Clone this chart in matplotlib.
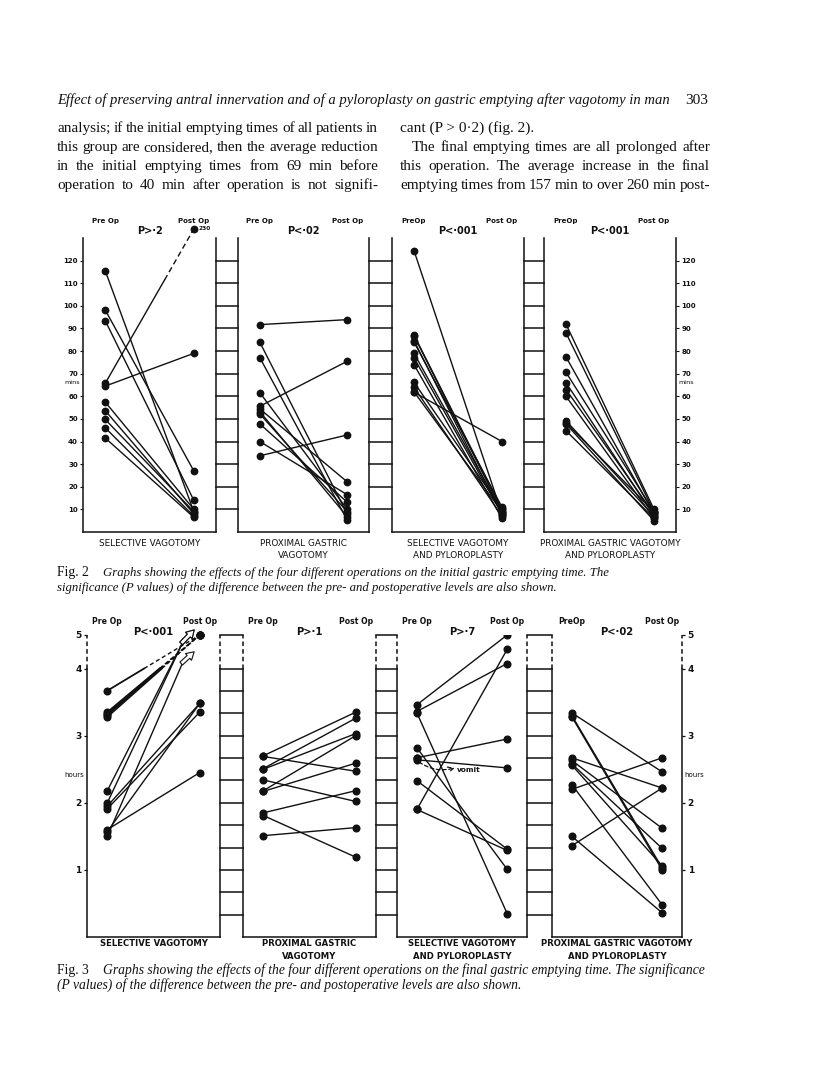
import numpy as np
import matplotlib
matplotlib.use("Agg")
import matplotlib.pyplot as plt
import matplotlib.transforms as mtrans

# ---------------- text ----------------
header = ("Effect of preserving antral innervation and of a pyloroplasty "
          "on gastric emptying after vagotomy in man")
page_no = "303"
left_col = ["analysis; if the initial emptying times of all patients in",
            "this group are considered, then the average reduction",
            "in the initial emptying times from 69 min before",
            "operation to 40 min after operation is not signifi-"]
right_col = ["cant (P > 0·2) (fig. 2).",
             "The final emptying times are all prolonged after",
             "this operation. The average increase in the final",
             "emptying times from 157 min to over 260 min post-"]
fig2_caption = ["Graphs showing the effects of the four different operations on the initial gastric emptying time. The",
                "significance (P values) of the difference between the pre- and postoperative levels are also shown."]
fig3_caption = ["Graphs showing the effects of the four different operations on the final gastric emptying time. The significance",
                "(P values) of the difference between the pre- and postoperative levels are also shown."]

op_names = [["SELECTIVE VAGOTOMY"],
            ["PROXIMAL GASTRIC", "VAGOTOMY"],
            ["SELECTIVE VAGOTOMY", "AND PYLOROPLASTY"],
            ["PROXIMAL GASTRIC VAGOTOMY", "AND PYLOROPLASTY"]]
fig2_pvals = ["P>·2", "P<·02", "P<·001", "P<·001"]
fig3_pvals = ["P<·001", "P>·1", "P>·7", "P<·02"]
fig2_pre_lab = ["Pre Op", "Pre Op", "PreOp", "PreOp"]
fig3_pre_lab = ["Pre Op", "Pre Op", "Pre Op", "PreOp"]
post_lab = "Post Op"

min_ticks = [10, 20, 30, 40, 50, 60, 70, 80, 90, 100, 110, 120]
hour_ticks = [1, 2, 3, 4, 5]
rung_minutes = [20, 40, 60, 80, 100, 120, 140, 160, 180, 200, 220, 240]

# ---------------- Fig 2 data: initial emptying time (min) ----------------
sv2_pre = [115.6, 98.2, 93.5, 65.7, 64.5, 57.5, 53.7, 49.8, 46.1, 41.6]
sv2_post = [9.0, 27.0, 14.0, 230.0, 79.0, 10.0, 8.0, 9.0, 7.0, 6.5]

pgv2_pre = [91.7, 83.9, 77.1, 61.6, 55.6, 54.4, 53.2, 52.2, 47.8, 40.0, 33.7]
pgv2_post = [93.9, 8.0, 5.3, 10.1, 75.5, 22.2, 6.8, 9.0, 13.2, 16.5, 42.9]

svpp2_pre = [124.4, 87.1, 86.8, 84.6, 84.0, 79.0, 77.0, 74.0, 66.2, 64.0, 62.0, 61.8]
svpp2_post = [8.0, 10.0, 9.0, 7.5, 11.0, 9.0, 8.0, 6.0, 10.0, 7.0, 9.0, 40.0]

pgvpp2_pre = [91.9, 88.0, 77.4, 70.6, 66.0, 63.0, 60.0, 49.2, 48.3, 47.8, 44.8]
pgvpp2_post = [10.0, 9.0, 8.0, 9.0, 7.0, 8.0, 6.0, 7.0, 9.0, 5.0, 6.0]

# ---------------- Fig 3 data: final emptying time (hours) ----------------
# mark: 'dot' plain, 'brk' dashed above the broken scale, 'arrow' off scale (open arrow)
sv3_pre = [3.67, 3.35, 3.33, 3.31, 3.28, 2.18, 2.00, 1.95, 1.91, 1.60, 1.57, 1.50]
sv3_post = [5.0, 5.0, 5.0, 5.0, 5.0, 4.8, 4.8, 3.48, 3.35, 2.45, 3.48, 4.2]
sv3_mark = ['brk', 'brk', 'brk', 'brk', 'brk', 'arrow', 'arrow',
            'dot', 'dot', 'dot', 'dot', 'arrow']

pgv3_pre = [2.70, 2.69, 2.51, 2.50, 2.34, 2.18, 2.17, 1.85, 1.81, 1.51]
pgv3_post = [3.35, 2.47, 3.26, 3.03, 2.02, 3.00, 2.59, 2.18, 1.19, 1.63]

svpp3_pre = [3.46, 3.36, 3.34, 2.82, 2.67, 2.66, 2.64, 2.33, 1.90, 1.90]
svpp3_post = [5.0, 4.15, 0.35, 1.01, 2.95, np.nan, 2.52, 1.31, 4.57, 1.29]

pgvpp3_pre = [3.34, 3.30, 3.28, 2.67, 2.63, 2.58, 2.56, 2.27, 2.20, 1.50, 1.36]
pgvpp3_post = [2.46, 1.03, 1.00, 2.22, 1.62, 1.32, 1.06, 0.48, 2.67, 0.36, 2.22]

# ---------------- figure ----------------
W, H = 816, 1075
fig = plt.figure(figsize=(W / 100, H / 100), dpi=100)
fig.patch.set_facecolor("white")
T = mtrans.Affine2D().scale(1 / W, -1 / H).translate(0, 1) + fig.transFigure
renderer = fig.canvas.get_renderer()
SERIF = "Liberation Serif"
SANS = "DejaVu Sans"
INK = "#111111"


def box(x0, y0, x1, y1):
    return [x0 / W, 1 - y1 / H, (x1 - x0) / W, (y1 - y0) / H]


def text_w(s, size, **kw):
    t = fig.text(0, 0, s, transform=T, fontsize=size, **kw)
    w = t.get_window_extent(renderer).width
    t.remove()
    return w


def fit_text(x, y, s, target_w, size0=10, **kw):
    t = fig.text(x, y, s, transform=T, fontsize=size0, color=INK, **kw)
    w = t.get_window_extent(renderer).width
    t.set_fontsize(size0 * target_w / w)
    return t


def min_gap(line, width, size, **kw):
    words = line.split(" ")
    tot = sum(text_w(w, size, **kw) for w in words)
    return (width - tot) / max(len(words) - 1, 1)


def justify(line, x0, x1, y, size, **kw):
    words = line.split(" ")
    arts = [fig.text(0, y, w, transform=T, fontsize=size, va="baseline",
                     color=INK, **kw) for w in words]
    widths = [a.get_window_extent(renderer).width for a in arts]
    gap = (x1 - x0 - sum(widths)) / max(len(words) - 1, 1)
    x = x0
    for a, w in zip(arts, widths):
        a.set_x(x)
        x += w + gap


# header and body text
fit_text(57, 104, header, 665 - 57, family=SERIF, style="italic", va="baseline")
fig.text(708, 104, page_no, transform=T, ha="right", va="baseline",
         family=SERIF, fontsize=11, color=INK)

just_lines = [(l, 321) for l in left_col] + [(right_col[1], 298), (right_col[2], 310), (right_col[3], 310)]
body_size = 11.5
while body_size > 8 and min(min_gap(l, w, body_size, family=SERIF) for l, w in just_lines) < 2.8:
    body_size -= 0.1

for i, line in enumerate(left_col):
    justify(line, 57, 378, 132 + 19 * i, body_size, family=SERIF)
fig.text(400, 132, right_col[0], transform=T, fontsize=body_size,
         family=SERIF, va="baseline", color=INK)
for i, line in enumerate(right_col[1:]):
    justify(line, 412 if i == 0 else 400, 710, 151 + 19 * i, body_size, family=SERIF)


# captions
def caption(num, lines, y0, x_end):
    fig.text(57, y0, "Fig. %d" % num, transform=T, family=SERIF, fontsize=9.8,
             va="baseline", color=INK)
    t = fit_text(103, y0, lines[0], x_end - 103, family=SERIF, style="italic",
                 va="baseline")
    fig.text(57, y0 + 14.5, lines[1], transform=T, family=SERIF, style="italic",
             fontsize=t.get_fontsize(), va="baseline", color=INK)


caption(2, fig2_caption, 576, 613)
caption(3, fig3_caption, 974, 708)


# ---------------- panel helpers ----------------
def fwd(v):
    v = np.asarray(v, dtype=float)
    return np.where(v <= 4, v, 4 + (v - 4) * 0.5)


def inv(u):
    u = np.asarray(u, dtype=float)
    return np.where(u <= 4, u, 4 + (u - 4) * 2.0)


def make_axes(b, hours=False):
    ax = fig.add_axes(box(*b))
    ax.set_facecolor("none")
    if hours:
        ax.set_yscale("function", functions=(fwd, inv))
        ax.set_ylim(0, 5)
        ax.set_xlim(-0.22, 1.22)
    else:
        ax.set_ylim(0, 130)
        ax.set_xlim(-0.25, 1.25)
    ax.set_xticks([])
    ax.set_yticks([])
    ax.spines["top"].set_visible(False)
    for s in ax.spines.values():
        s.set_linewidth(1.1)
        s.set_color(INK)
    if hours:
        ax.spines["left"].set_bounds(0, 4)
        ax.spines["right"].set_bounds(0, 4)
        bt = mtrans.blended_transform_factory(ax.transAxes, ax.transData)
        for xs in (0, 1):
            ax.plot([xs, xs], [4, 5], transform=bt, color=INK, lw=1.1,
                    ls=(0, (3, 2)), clip_on=False)
    return ax


def make_ladder(b, hours=False):
    ax = fig.add_axes(box(*b))
    ax.axis("off")
    if hours:
        ax.set_yscale("function", functions=(fwd, inv))
        ax.set_ylim(0, 5)
        for m in rung_minutes:
            ax.axhline(m / 60, color=INK, lw=1.1, clip_on=False)
        ax.axhline(5, color=INK, lw=1.1, clip_on=False)
    else:
        ax.set_ylim(0, 130)
        for v in min_ticks:
            ax.axhline(v, color=INK, lw=1.1, clip_on=False)
    return ax


def pairs(ax, pre, post, ms=4.6):
    for a, b in zip(pre, post):
        if np.isnan(b):
            ax.plot([0], [a], "o", ms=ms, color=INK, zorder=3)
            continue
        ax.plot([0, 1], [a, b], color=INK, lw=1.0, zorder=2)
        ax.plot([0, 1], [a, b], "o", ms=ms, color=INK, zorder=3, lw=0)


def panel_texts(ax, yl, ypv, ylab, pre_lab, pval, names, size_lab, size_pv, size_name, weight_name):
    bx = mtrans.blended_transform_factory(ax.transData, T)
    ba = mtrans.blended_transform_factory(ax.transAxes, T)
    ax.text(0, yl, pre_lab, transform=bx, ha="center", va="center",
            fontsize=size_lab, fontweight="bold", family=SANS, color=INK)
    ax.text(1, yl, post_lab, transform=bx, ha="center", va="center",
            fontsize=size_lab, fontweight="bold", family=SANS, color=INK)
    ax.text(0.5, ypv, pval, transform=ba, ha="center", va="center",
            fontsize=size_pv, fontweight="bold", family=SANS, color=INK)
    for k, nm in enumerate(names):
        ax.text(0.5, ylab + 12.5 * k, nm, transform=ba, ha="center", va="center",
                fontsize=size_name, fontweight=weight_name, family=SANS, color=INK)


# ---------------- Fig 2 ----------------
f2_boxes = [(83, 238, 216, 532), (238, 238, 369, 532),
            (392, 238, 524, 532), (544, 238, 676, 532)]
f2_data = [(sv2_pre, sv2_post), (pgv2_pre, pgv2_post),
           (svpp2_pre, svpp2_post), (pgvpp2_pre, pgvpp2_post)]
axes2 = []
for i, (b, (pre, post)) in enumerate(zip(f2_boxes, f2_data)):
    ax = make_axes(b)
    axes2.append(ax)
    top = ax.get_ylim()[1]
    on = [(a, p) for a, p in zip(pre, post) if p <= top]
    pairs(ax, [a for a, _ in on], [p for _, p in on])
    for a, p in zip(pre, post):
        if p > top:  # off-scale value: solid then dashed up to a marker above the axis
            yc = top + 4
            xm = 0.67
            ym = a + (yc - a) * xm
            ax.plot([0, xm], [a, ym], color=INK, lw=1.0, clip_on=False)
            ax.plot([xm, 1], [ym, yc], color=INK, lw=1.0, ls=(0, (4, 2.5)), clip_on=False)
            ax.plot([0], [a], "o", ms=4.6, color=INK)
            ax.plot([1], [yc], "o", ms=4.6, color=INK, clip_on=False)
            ax.text(1.05, yc, "%d" % p, fontsize=4.2, fontweight="bold",
                    va="center", ha="left", family=SANS, color=INK)
    panel_texts(ax, 220.5, 231, 543, fig2_pre_lab[i], fig2_pvals[i], op_names[i],
                5.0, 7.0, 6.4, "normal")
for k in range(3):
    make_ladder((f2_boxes[k][2], 238, f2_boxes[k + 1][0], 532))

# tick labels fig 2
ax = axes2[0]
ax.set_yticks(min_ticks)
ax.tick_params(axis="y", left=True, labelleft=True, direction="out", length=2.5,
               width=0.8, pad=1.2, labelsize=5.0, colors=INK)
for lab in ax.get_yticklabels():
    lab.set_fontweight("bold")
ax.text(-0.02, 66, "mins", transform=mtrans.blended_transform_factory(ax.transAxes, ax.transData),
        ha="right", va="center", fontsize=4.6, family=SANS, color=INK)
ax = axes2[3]
ax.set_yticks(min_ticks)
ax.yaxis.tick_right()
ax.tick_params(axis="y", right=True, labelright=True, left=False, labelleft=False,
               direction="out", length=2.5, width=0.8, pad=1.2, labelsize=5.0, colors=INK)
for lab in ax.get_yticklabels():
    lab.set_fontweight("bold")
ax.text(1.02, 66, "mins", transform=mtrans.blended_transform_factory(ax.transAxes, ax.transData),
        ha="left", va="center", fontsize=4.6, family=SANS, color=INK)

# ---------------- Fig 3 ----------------
f3_boxes = [(87, 635, 220, 937), (243, 635, 376, 937),
            (397, 635, 527, 937), (552, 635, 682, 937)]
axes3 = [make_axes(b, hours=True) for b in f3_boxes]
for k in range(3):
    make_ladder((f3_boxes[k][2], 635, f3_boxes[k + 1][0], 937), hours=True)

# panel 1 with broken-scale and off-scale patients
ax = axes3[0]
for a, p, mk in zip(sv3_pre, sv3_post, sv3_mark):
    ax.plot([0], [a], "o", ms=4.8, color=INK, zorder=3)
    if mk == "dot":
        ax.plot([0, 1], [a, p], color=INK, lw=1.0)
        ax.plot([1], [p], "o", ms=4.8, color=INK, zorder=3)
    elif mk == "brk":
        ua, up = float(fwd(a)), float(fwd(p))
        xb = (4 - ua) / (up - ua)
        ax.plot([0, xb], [a, 4], color=INK, lw=1.3)
        ax.plot([xb, 1], [4, p], color=INK, lw=1.0, ls=(0, (3, 2)), clip_on=False)
        ax.plot([1], [p], "o", ms=4.8, color=INK, zorder=3, clip_on=False)
    else:
        xe = 0.82
        ax.plot([0, xe], [a, p], color=INK, lw=1.0, clip_on=False)
        ax.annotate("", xy=(xe + 0.12, p + (0.35 if p > 4.5 else 0.3)), xytext=(xe - 0.02, p - 0.05),
                    arrowprops=dict(arrowstyle="simple,head_length=0.55,head_width=0.65,tail_width=0.28",
                                    fc="white", ec=INK, lw=0.8, shrinkA=0, shrinkB=0),
                    annotation_clip=False, zorder=4)

pairs(axes3[1], pgv3_pre, pgv3_post, ms=4.8)
pairs(axes3[2], svpp3_pre, svpp3_post, ms=4.8)
pairs(axes3[3], pgvpp3_pre, pgvpp3_post, ms=4.8)

# vomit annotation (patient with no post-op value)
ax = axes3[2]
iv = int(np.where(np.isnan(svpp3_post))[0][0])
ax.annotate("", xy=(0.42, svpp3_pre[iv] - 0.14), xytext=(0.0, svpp3_pre[iv] - 0.03),
            arrowprops=dict(arrowstyle="->", ls=(0, (3, 2)), lw=0.9, color=INK,
                            connectionstyle="arc3,rad=0.25", shrinkA=2, shrinkB=0))
ax.text(0.44, svpp3_pre[iv] - 0.17, "vomit", fontsize=5.3, fontweight="bold",
        family=SANS, va="center", ha="left", color=INK)

for i, ax in enumerate(axes3):
    panel_texts(ax, 622, 632, 944, fig3_pre_lab[i], fig3_pvals[i], op_names[i],
                5.6, 7.2, 6.1, "semibold")

ax = axes3[0]
ax.set_yticks(hour_ticks)
ax.tick_params(axis="y", left=True, labelleft=True, direction="out", length=2.5,
               width=0.9, pad=1.5, labelsize=6.5, colors=INK)
for lab in ax.get_yticklabels():
    lab.set_fontweight("bold")
ax.text(-0.02, 2.42, "hours", transform=mtrans.blended_transform_factory(ax.transAxes, ax.transData),
        ha="right", va="center", fontsize=5.0, family=SANS, color=INK)
ax = axes3[3]
ax.set_yticks(hour_ticks)
ax.yaxis.tick_right()
ax.tick_params(axis="y", right=True, labelright=True, left=False, labelleft=False,
               direction="out", length=2.5, width=0.9, pad=1.5, labelsize=6.5, colors=INK)
for lab in ax.get_yticklabels():
    lab.set_fontweight("bold")
ax.text(1.02, 2.42, "hours", transform=mtrans.blended_transform_factory(ax.transAxes, ax.transData),
        ha="left", va="center", fontsize=5.0, family=SANS, color=INK)

fig.savefig("out.png", dpi=100, facecolor="white")
